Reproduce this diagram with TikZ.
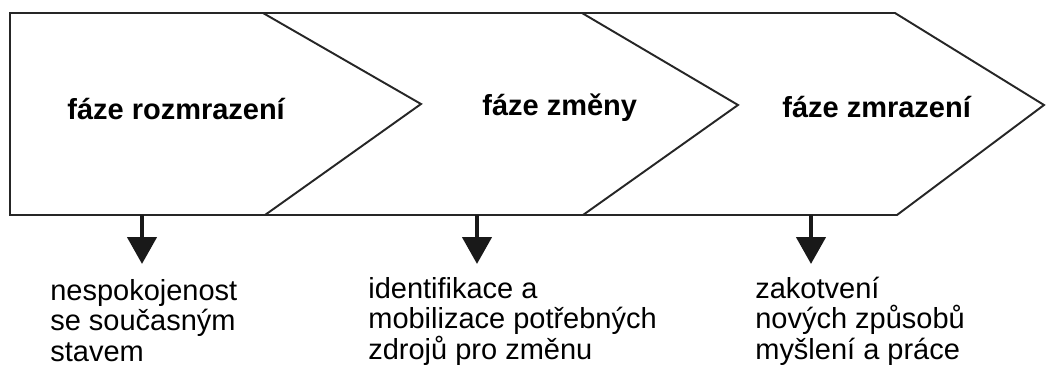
\documentclass[tikz,border=0pt]{standalone}
\usepackage{fontspec}
\setmainfont{Liberation Sans}
\usetikzlibrary{arrows.meta,positioning}

\begin{document}
\begin{tikzpicture}[x=0.02cm,y=-0.02cm,
    phase/.style={font=\fontsize{16.5}{20}\selectfont\bfseries, anchor=base west, inner sep=0pt},
    note/.style={font=\fontsize{16.5}{17.1}\selectfont, anchor=base west, inner sep=0pt, align=left},
    edge/.style={line width=1.1pt, color=black!85},
    down/.style={line width=2.6pt, color=black!90, -{Triangle[width=0.58cm,length=0.54cm]}}]
  \useasboundingbox (0,0) rectangle (1046,365);

  % outline of the chevrons
  \coordinate (TL) at (10,13);
  \coordinate (TR) at (895,13);
  \coordinate (tip) at (1044,105);
  \coordinate (BR) at (897,215);
  \coordinate (BL) at (10,215);
  \draw[edge, line join=miter] (TL) -- (TR) -- (tip) -- (BR) -- (BL) -- cycle;
  \draw[edge] (263,13) -- (421,104) -- (265,215);
  \draw[edge] (582,13) -- (738,105) -- (583,215);

  \node[phase] (F1) at (67,119) {fáze rozmrazení};
  \node[phase] (F2) at (482,115) {fáze změny};
  \node[phase] (F3) at (782,117) {fáze zmrazení};

  % base of a multi-line node is its last line
  \node[note] (N1) at (50,361) {nespokojenost\\se současným\\stavem};
  \node[note] (N2) at (368,359) {identifikace a\\mobilizace potřebných\\zdrojů pro změnu};
  \node[note] (N3) at (755,359) {zakotvení\\nových způsobů\\myšlení a práce};

  \coordinate (S1) at (142,215);  \coordinate (E1) at (142,264);
  \coordinate (S2) at (477,215);  \coordinate (E2) at (477,264);
  \coordinate (S3) at (811,215);  \coordinate (E3) at (811,264);
  \draw[down] (S1) -- (E1);
  \draw[down] (S2) -- (E2);
  \draw[down] (S3) -- (E3);
\end{tikzpicture}
\end{document}
